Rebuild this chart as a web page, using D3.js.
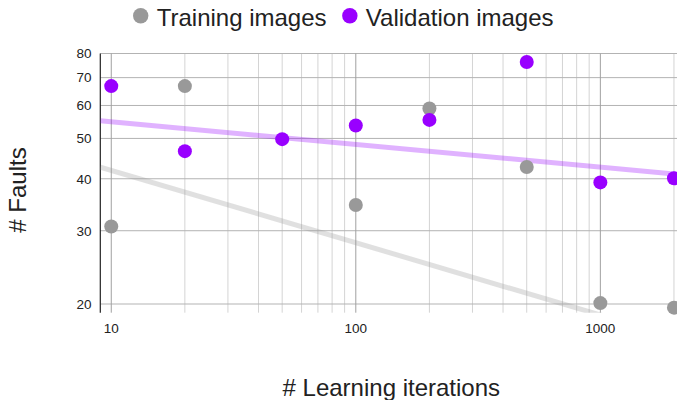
<!DOCTYPE html>
<html><head><meta charset="utf-8">
<script src="https://cdn.jsdelivr.net/npm/d3@7/dist/d3.min.js"></script>
<style>body{margin:0;background:#fff}svg{display:block;font-family:"Liberation Sans",Arial,sans-serif}</style>
</head><body><svg id="c" width="677" height="400"></svg>
<script>
// ---- data ----
const iterations = [10, 20, 50, 100, 200, 500, 1000, 2000];
const trainingX = [10, 20, 100, 200, 500, 1000, 2000];
const trainingFaults = [30.7, 66.8, 34.6, 59.0, 42.7, 20.1, 19.6];
const validationX = [10, 20, 50, 100, 200, 500, 1000, 2000];
const validationFaults = [66.8, 46.6, 49.8, 53.7, 55.4, 76.3, 39.2, 40.1];
const trendX = [9.02, 2058];
const trainingTrend = [42.65, 16.6];
const validationTrend = [55.15, 41.0];
const xDomain = [9.02, 2058];
const yDomain = [19.06, 80];
const yTicks = [20, 30, 40, 50, 60, 70, 80];
const xMajorTicks = [10, 100, 1000];
const xMinorTicks = [20,30,40,50,60,70,80,90,200,300,400,500,600,700,800,900,2000];
const seriesNames = ["Training images", "Validation images"];
const colors = ["#999999", "#9900ff"];

// ---- layout ----
const L = 100.3, R = 677, T = 53.5, B = 312.7;
const svg = d3.select("#c");
const x = d3.scaleLog().domain(xDomain).range([L, R]);
const y = d3.scaleLog().domain(yDomain).range([B, T]);

svg.append("defs").append("clipPath").attr("id","clip")
  .append("rect").attr("x", L).attr("y", T).attr("width", R - L).attr("height", B - T);

const g = svg.append("g");
// minor vertical grid
g.selectAll(".vmin").data(xMinorTicks).join("line")
  .attr("x1", d => x(d)).attr("x2", d => x(d)).attr("y1", T).attr("y2", B)
  .attr("stroke", "#d4d4d4").attr("stroke-width", 1);
// horizontal grid
g.selectAll(".h").data(yTicks).join("line")
  .attr("x1", L).attr("x2", R).attr("y1", d => y(d)).attr("y2", d => y(d))
  .attr("stroke", "#b3b3b3").attr("stroke-width", 1);
// major vertical grid
g.selectAll(".vmaj").data(xMajorTicks).join("line")
  .attr("x1", d => x(d)).attr("x2", d => x(d)).attr("y1", T).attr("y2", B)
  .attr("stroke", "#a0a0a0").attr("stroke-width", 1);
// y axis line
g.append("line").attr("x1", L).attr("x2", L).attr("y1", T).attr("y2", B)
  .attr("stroke", "#222").attr("stroke-width", 1.2);

// tick labels
g.selectAll(".yl").data(yTicks).join("text")
  .attr("x", 91.5).attr("y", d => y(d)).attr("dy", "0.36em")
  .attr("text-anchor", "end").attr("font-size", 13.5).attr("fill", "#222")
  .text(d => d);
g.selectAll(".xl").data(xMajorTicks).join("text")
  .attr("x", d => x(d)).attr("y", 333.3)
  .attr("text-anchor", "middle").attr("font-size", 13.5).attr("fill", "#222")
  .text(d => d);

// trend lines
const line = d3.line().x(d => x(d[0])).y(d => y(d[1]));
const tg = svg.append("g").attr("clip-path", "url(#clip)");
[trainingTrend, validationTrend].forEach((t, i) => {
  tg.append("path").datum(trendX.map((xx, j) => [xx, t[j]]))
    .attr("d", line).attr("fill", "none")
    .attr("stroke", colors[i]).attr("stroke-opacity", 0.3).attr("stroke-width", 5);
});

// points
const pg = svg.append("g");
pg.selectAll(".tp").data(trainingX.map((d, i) => [d, trainingFaults[i]])).join("circle")
  .attr("cx", d => x(d[0])).attr("cy", d => y(d[1])).attr("r", 7).attr("fill", colors[0]);
pg.selectAll(".vp").data(validationX.map((d, i) => [d, validationFaults[i]])).join("circle")
  .attr("cx", d => x(d[0])).attr("cy", d => y(d[1])).attr("r", 7).attr("fill", colors[1]);

// axis titles
svg.append("text").attr("transform", "translate(25.5,190) rotate(-90)")
  .attr("text-anchor", "middle").attr("font-size", 24).attr("fill", "#222").text("# Faults");
svg.append("text").attr("x", 391.3).attr("y", 396)
  .attr("text-anchor", "middle").attr("font-size", 24).attr("fill", "#222").text("# Learning iterations");

// legend
const lg = svg.append("g");
let cx = 140.7;
seriesNames.forEach((name, i) => {
  lg.append("circle").attr("cx", cx).attr("cy", 15.7).attr("r", 7.7).attr("fill", colors[i]);
  const t = lg.append("text").attr("x", cx + 16).attr("y", 25.7)
    .attr("font-size", 24).attr("fill", "#222").text(name);
  const w = t.node().getComputedTextLength();
  cx = cx + 16 + w + 23.3;
});
</script></body></html>
